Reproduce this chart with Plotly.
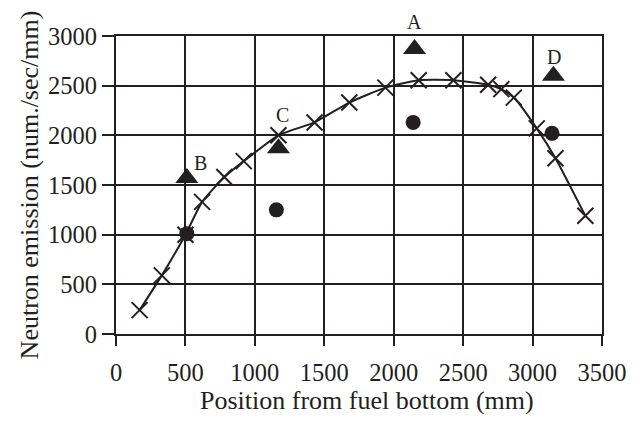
import plotly.graph_objects as go

# Measured profile (crosses, joined by smooth curve)
cross_x = [170, 330, 500, 620, 780, 920, 1170, 1430, 1680, 1940, 2180, 2430, 2680, 2775, 2865, 3030, 3165, 3380]
cross_y = [240, 590, 1000, 1330, 1580, 1740, 2000, 2130, 2330, 2480, 2555, 2555, 2510, 2465, 2380, 2070, 1770, 1190]

# Triangles with labels
tri_x = [2150, 510, 1170, 3150]
tri_y = [2870, 1570, 1870, 2600]
tri_labels = ["A", "B", "C", "D"]

# Circles
circ_x = [510, 1155, 2140, 3140]
circ_y = [1010, 1250, 2130, 2020]

x_ticks = [0, 500, 1000, 1500, 2000, 2500, 3000, 3500]
y_ticks = [0, 500, 1000, 1500, 2000, 2500, 3000]

INK = "#231f20"
FONT = "Liberation Serif"

fig = go.Figure()
fig.add_trace(go.Scatter(
    x=cross_x, y=cross_y, mode="lines+markers",
    line=dict(color=INK, width=2, shape="spline", smoothing=0.5),
    marker=dict(symbol="x-thin", size=16, line=dict(color=INK, width=2)),
    showlegend=False, cliponaxis=False,
))
fig.add_trace(go.Scatter(
    x=circ_x, y=circ_y, mode="markers",
    marker=dict(symbol="circle", size=15, color=INK),
    showlegend=False, cliponaxis=False,
))
fig.add_trace(go.Scatter(
    x=tri_x, y=tri_y, mode="markers",
    marker=dict(symbol="triangle-up", size=20, color=INK),
    showlegend=False, cliponaxis=False,
))

label_shifts = {"A": (0, 27), "B": (14, 15), "C": (4, 33), "D": (1, 19)}
for lx, ly, lab in zip(tri_x, tri_y, tri_labels):
    dx, dy = label_shifts[lab]
    fig.add_annotation(x=lx, y=ly, text=lab, showarrow=False,
                       xshift=dx, yshift=dy,
                       font=dict(family=FONT, size=20, color=INK))

# x-axis title (slightly right of plot centre, as in the original)
fig.add_annotation(text="Position from fuel bottom (mm)", xref="paper", yref="paper",
                   x=0.5, y=0, xanchor="center", yanchor="top",
                   xshift=8, yshift=-50, showarrow=False,
                   font=dict(family=FONT, size=26, color=INK))

axis_common = dict(
    showgrid=True, gridcolor=INK, gridwidth=2,
    showline=True, linecolor=INK, linewidth=2, mirror=True,
    ticks="outside", tickcolor=INK, tickwidth=2,
    zeroline=False,
    tickfont=dict(family=FONT, size=24.5, color=INK),
)

fig.update_xaxes(range=[0, 3500], tickvals=x_ticks, ticklen=10,
                 ticklabelstandoff=6,
                 **axis_common)
fig.update_yaxes(range=[0, 3000], tickvals=y_ticks, ticklen=12,
                 title=dict(text="Neutron emission (num./sec/mm)", standoff=2,
                            font=dict(family=FONT, size=26, color=INK)),
                 **axis_common)

fig.update_layout(
    width=643, height=422,
    margin=dict(l=116, r=41, t=36, b=88),
    paper_bgcolor="white", plot_bgcolor="white",
    font=dict(family=FONT, color=INK),
)

fig.write_html("out.html")
